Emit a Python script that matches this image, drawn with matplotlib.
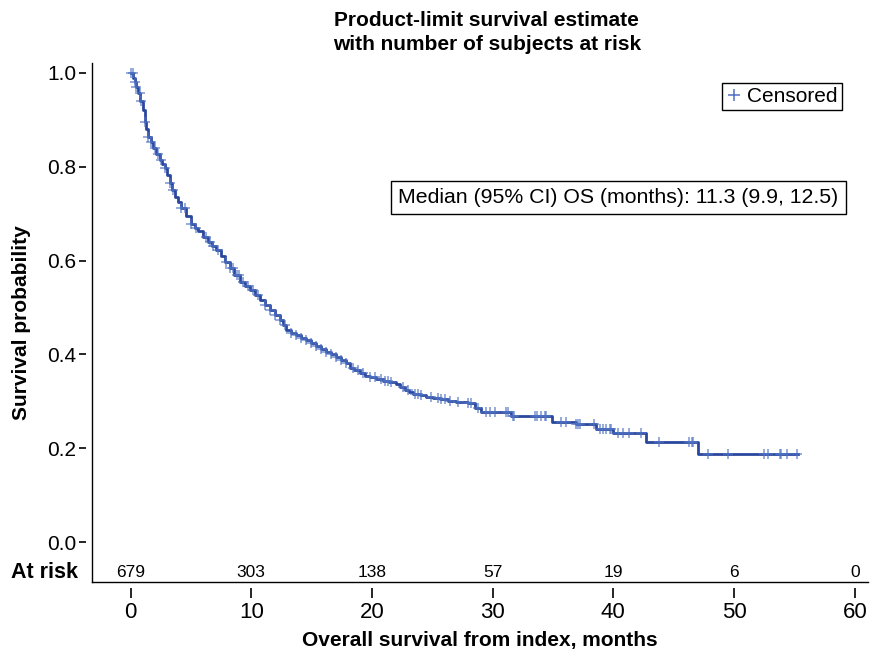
import matplotlib
matplotlib.use('Agg')
import matplotlib.pyplot as plt
from matplotlib.lines import Line2D
import numpy as np

plt.rcParams['font.family'] = ['Liberation Sans', 'DejaVu Sans']

# Kaplan-Meier steps (time in months, survival after the step)
step_t = [0.0, 0.20, 0.33, 0.45, 0.60, 0.80, 1.02, 1.16, 1.30, 1.43, 1.65, 1.85, 2.10,
          2.40, 2.60, 2.82, 3.00, 3.23, 3.45, 3.65, 3.90, 4.20, 4.60, 5.03, 5.30, 5.58,
          6.00, 6.40, 6.75, 7.10, 7.45, 7.79, 8.20, 8.60, 9.03, 9.45, 9.86, 10.27, 10.69,
          11.10, 11.52, 11.93, 12.34, 12.60, 12.90, 13.30, 13.73, 14.14, 14.56, 14.97,
          15.39, 15.80, 16.21, 16.63, 17.04, 17.46, 17.87, 18.14, 18.50, 18.97, 19.40,
          19.80, 20.35, 20.90, 21.45, 22.01, 22.35, 22.70, 23.05, 23.39, 23.95, 24.50,
          25.05, 25.60, 26.30, 26.98, 27.95, 28.50, 29.06, 31.5, 34.9, 36.9, 38.6, 40.0,
          42.7, 47.0]
step_s = [1.0, 0.990, 0.981, 0.970, 0.957, 0.940, 0.921, 0.896, 0.880, 0.864, 0.852,
          0.840, 0.828, 0.814, 0.806, 0.797, 0.782, 0.765, 0.750, 0.736, 0.724, 0.711,
          0.695, 0.679, 0.670, 0.662, 0.651, 0.640, 0.632, 0.623, 0.610, 0.598, 0.584,
          0.570, 0.555, 0.546, 0.537, 0.527, 0.516, 0.506, 0.495, 0.484, 0.473, 0.462,
          0.452, 0.446, 0.441, 0.436, 0.431, 0.425, 0.418, 0.412, 0.406, 0.400, 0.395,
          0.388, 0.381, 0.372, 0.366, 0.360, 0.355, 0.351, 0.347, 0.344, 0.341, 0.338,
          0.331, 0.324, 0.320, 0.316, 0.313, 0.310, 0.307, 0.304, 0.301, 0.299, 0.296,
          0.285, 0.278, 0.268, 0.256, 0.251, 0.242, 0.232, 0.213, 0.188]
last_t = 55.3

censor_t = [0.06, 0.19, 0.33, 0.47, 0.75, 0.89, 1.16, 1.43, 1.71, 1.99, 2.26, 2.54, 2.82,
            3.23, 3.51, 4.20, 4.47, 5.03, 5.44, 6.27, 6.55, 6.82, 7.23, 7.93, 8.20, 8.5,
            8.8, 9.0, 9.30, 9.72, 10.13, 10.55, 11.1, 11.52, 11.93, 12.34, 12.76, 13.31,
            13.73, 14.14, 14.56, 14.97, 15.39, 15.80, 16.21, 16.63, 17.04, 17.46, 17.87,
            18.42, 18.83, 19.25, 19.80, 20.22, 20.77, 21.04, 21.32, 21.60, 22.56, 22.97,
            23.53, 23.81, 24.08, 24.91, 25.46, 25.74, 26.01, 26.43, 27.12, 27.95, 28.23,
            28.78, 29.47, 29.74, 30.16, 31.1, 31.3, 31.7, 31.8, 33.5, 33.7, 34.0, 34.3,
            34.4, 35.7, 36.1, 36.9, 37.1, 37.2, 38.4, 38.9, 39.1, 39.4, 39.7, 39.8, 40.4,
            40.8, 41.3, 42.3, 43.8, 46.3, 46.5, 46.6, 47.8, 49.5, 52.5, 52.8, 53.8, 53.9,
            54.4, 55.2]

risk_t = [0, 10, 20, 30, 40, 50, 60]
risk_n = [679, 303, 138, 57, 19, 6, 0]

line_col = '#2a479e'
cens_col = '#4f72c4'

fig = plt.figure(figsize=(8.71, 6.49), dpi=100)
ax = fig.add_axes([0.1056, 0.1032, 0.891, 0.7997])

xs = list(step_t) + [last_t]
ys = list(step_s) + [step_s[-1]]
ax.step(xs, ys, where='post', color=line_col, lw=2.0, zorder=3)

idx = np.searchsorted(step_t, censor_t, side='right') - 1
cens_s = np.array(step_s)[idx]
ax.plot(censor_t, cens_s, ls='none', marker='+', ms=7.5, mew=1.1,
        color=cens_col, alpha=0.75, zorder=4)

ax.set_xlim(-3.2, 61.1)
ax.set_ylim(-0.085, 1.021)
ax.set_xticks(risk_t)
ax.set_yticks([0.0, 0.2, 0.4, 0.6, 0.8, 1.0])
ax.set_yticklabels(['0.0', '0.2', '0.4', '0.6', '0.8', '1.0'])

for s in ['top', 'right']:
    ax.spines[s].set_visible(False)
for s in ['left', 'bottom']:
    ax.spines[s].set_position(('outward', 4.5))
    ax.spines[s].set_color('none')
ax.plot([0, 0], [0, 1], transform=ax.transAxes, color='black', lw=1.0, clip_on=False)
ax.plot([0, 1], [0, 0], transform=ax.transAxes, color='black', lw=1.0, clip_on=False)

ax.tick_params(axis='x', length=7, width=1.2, color='black', labelsize=16, pad=3)
ax.tick_params(axis='y', length=5, width=1.2, color='black', labelsize=15, pad=2)

ax.set_xlabel('Overall survival from index, months', fontsize=15, fontweight='bold',
              labelpad=6)
ax.set_ylabel('Survival probability', fontsize=15, fontweight='bold')
ax.yaxis.set_label_coords(-0.079, 0.5)

trans = ax.get_yaxis_transform()
for t, n in zip(risk_t, risk_n):
    ax.text(t, -0.064, str(n), ha='center', va='center', fontsize=12.5)
ax.text(-0.018, -0.064, 'At risk', transform=trans, ha='right', va='center',
        fontsize=15.5, fontweight='bold')

fig.text(0.559, 0.950, 'Product-limit survival estimate\nwith number of subjects at risk',
         ha='center', va='center', fontsize=15, fontweight='bold', linespacing=1.38)

handle = Line2D([], [], ls='none', marker='+', ms=9, mew=1.1, color=cens_col)
leg = ax.legend([handle], ['Censored'], loc='upper right',
                bbox_to_anchor=(0.9665, 0.9615), borderaxespad=0, fontsize=15,
                fancybox=False, edgecolor='black', framealpha=1, handlelength=0.7,
                handletextpad=0.3, borderpad=0.2)
leg.get_frame().set_linewidth(1.0)

ax.text(0.962, 0.741, 'Median (95% CI) OS (months): 11.3 (9.9, 12.5)', transform=ax.transAxes,
        ha='right', va='center', fontsize=15.3,
        bbox=dict(boxstyle='square,pad=0.35', fc='white', ec='black', lw=1.0))

fig.savefig('out.png', dpi=100)
